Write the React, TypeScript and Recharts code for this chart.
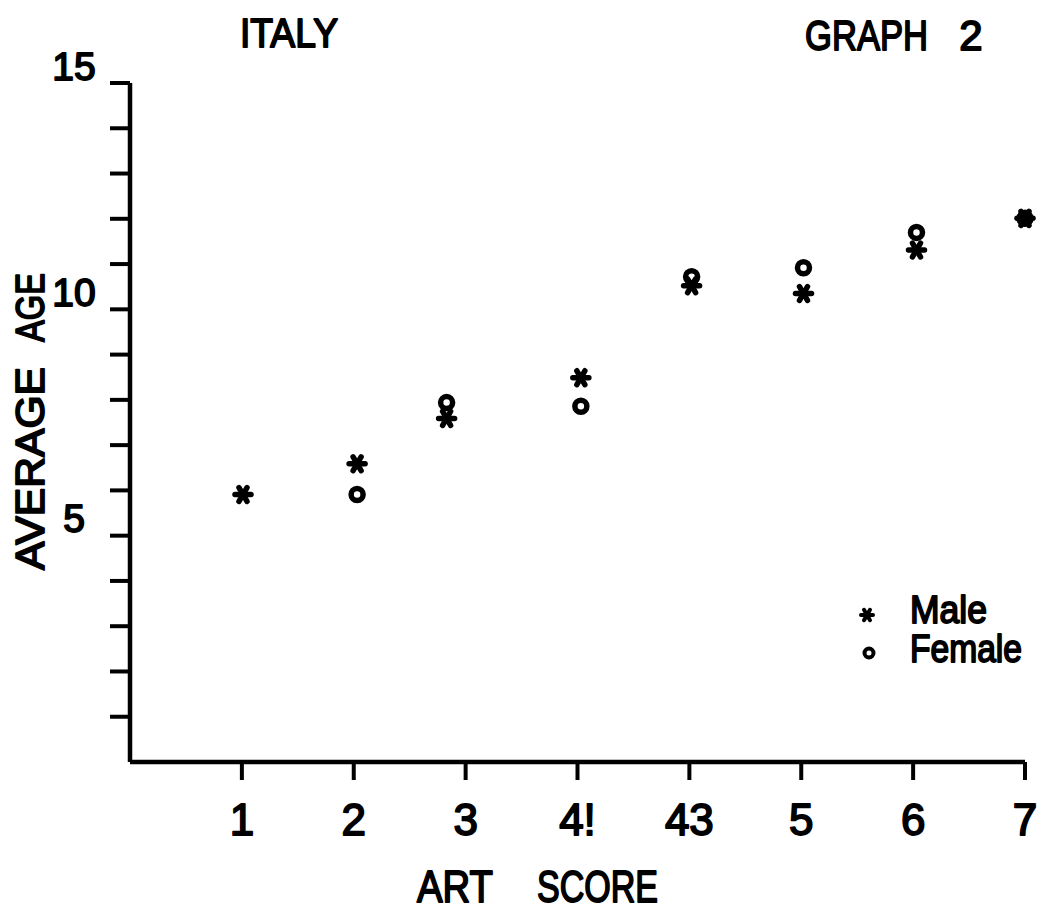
import React from 'react';
import { ScatterChart, Scatter, XAxis, YAxis, Legend, Label } from 'recharts';

// Category tick labels (x positions 1..8)
const categoryLabels = ['1', '2', '3', '4!', '43', '5', '6', '7'];
const xTicks = [1, 2, 3, 4, 5, 6, 7, 8];
const yTicks = [1, 2, 3, 4, 5, 6, 7, 8, 9, 10, 11, 12, 13, 14, 15];
const yLabelValues = [5, 10, 15];

// Male (asterisk)
const maleX = [1.01, 2.03, 2.83, 4.03, 5.02, 6.02, 7.03, 8.0];
const maleY = [5.91, 6.59, 7.59, 8.49, 10.52, 10.35, 11.31, 12.01];
// Female (circle)
const femaleX = [2.03, 2.83, 4.03, 5.02, 6.02, 7.03, 8.0];
const femaleY = [5.91, 7.94, 7.86, 10.72, 10.92, 11.7, 12.01];

const maleData = maleX.map((x, i) => ({ x, y: maleY[i] }));
const femaleData = femaleX.map((x, i) => ({ x, y: femaleY[i] }));

const FONT = '"Liberation Sans", Arial, sans-serif';
const TXT = { fill: '#000', stroke: '#000', strokeWidth: 1.8, strokeLinejoin: 'round' as const };

const StarShape = (props: any) => {
  const { cx, cy } = props;
  const r = 8;
  const arms = [0, 60, 120].map((deg) => {
    const a = (deg * Math.PI) / 180;
    return (
      <line
        key={deg}
        x1={cx - r * Math.cos(a)}
        y1={cy - r * Math.sin(a)}
        x2={cx + r * Math.cos(a)}
        y2={cy + r * Math.sin(a)}
      />
    );
  });
  return (
    <g stroke="#000" strokeWidth={5.5} strokeLinecap="round">
      {arms}
      <circle cx={cx} cy={cy} r={3.5} fill="#000" stroke="none" />
    </g>
  );
};

const RingShape = (props: any) => {
  const { cx, cy } = props;
  return <circle cx={cx} cy={cy} r={6} fill="none" stroke="#000" strokeWidth={5.5} />;
};

const XTick = (props: any) => {
  const { x, y, payload } = props;
  const label = categoryLabels[payload.value - 1];
  return (
    <text x={x} y={y + 53} textAnchor="middle" fontFamily={FONT} fontSize={44} {...TXT}>
      {label}
    </text>
  );
};

const YTick = (props: any) => {
  const { x, y, payload } = props;
  if (!yLabelValues.includes(payload.value)) return <g />;
  return (
    <text
      x={x - 34}
      y={y - 17}
      textAnchor="middle"
      dominantBaseline="central"
      fontFamily={FONT}
      fontSize={39}
      {...TXT}
    >
      {payload.value}
    </text>
  );
};

const XTitle = () => (
  <g fontFamily={FONT} fontSize={44} {...TXT}>
    <text x={455} y={902} textAnchor="middle" textLength={76} lengthAdjust="spacingAndGlyphs">
      ART
    </text>
    <text x={597.5} y={902} textAnchor="middle" textLength={121} lengthAdjust="spacingAndGlyphs">
      SCORE
    </text>
  </g>
);

const YTitle = () => (
  <g fontFamily={FONT} fontSize={40} {...TXT} transform="translate(44, 0)">
    <text
      x={0}
      y={0}
      transform="translate(0, 468.5) rotate(-90)"
      textAnchor="middle"
      textLength={203}
      lengthAdjust="spacingAndGlyphs"
    >
      AVERAGE
    </text>
    <text
      x={0}
      y={0}
      transform="translate(0, 307.5) rotate(-90)"
      textAnchor="middle"
      textLength={69}
      lengthAdjust="spacingAndGlyphs"
    >
      AGE
    </text>
  </g>
);

const StarShapeSmall = ({ cx, cy }: { cx: number; cy: number }) => {
  const r = 6;
  return (
    <g stroke="#000" strokeWidth={4} strokeLinecap="round">
      {[0, 60, 120].map((deg) => {
        const a = (deg * Math.PI) / 180;
        return (
          <line
            key={deg}
            x1={cx - r * Math.cos(a)}
            y1={cy - r * Math.sin(a)}
            x2={cx + r * Math.cos(a)}
            y2={cy + r * Math.sin(a)}
          />
        );
      })}
    </g>
  );
};

const renderLegend = () => (
  <svg width={190} height={90} style={{ display: 'block' }}>
    <StarShapeSmall cx={17} cy={30} />
    <text x={60} y={38} fontFamily={FONT} fontSize={38} {...TXT} textLength={77} lengthAdjust="spacingAndGlyphs">
      Male
    </text>
    <circle cx={19} cy={68} r={4.5} fill="none" stroke="#000" strokeWidth={4} />
    <text x={60} y={77} fontFamily={FONT} fontSize={38} {...TXT} textLength={112} lengthAdjust="spacingAndGlyphs">
      Female
    </text>
  </svg>
);

export default function App() {
  return (
    <div style={{ position: 'absolute', left: 0, top: 0, width: 1039, height: 912, background: '#fff' }}>
      <svg width={1039} height={912} style={{ position: 'absolute', left: 0, top: 0, pointerEvents: 'none' }}>
        <g fontFamily={FONT} {...TXT}>
          <text x={289} y={47} fontSize={40} textAnchor="middle" textLength={98} lengthAdjust="spacingAndGlyphs">
            ITALY
          </text>
          <text x={866.5} y={50} fontSize={42} textAnchor="middle" textLength={123} lengthAdjust="spacingAndGlyphs">
            GRAPH
          </text>
          <text x={971} y={50} fontSize={42} textAnchor="middle">
            2
          </text>
        </g>
      </svg>
      <ScatterChart
        width={1039}
        height={912}
        margin={{ top: 83, right: 14, bottom: 90, left: 60 }}
        style={{ position: 'absolute', left: 0, top: 0 }}
      >
        <XAxis
          type="number"
          dataKey="x"
          domain={[0, 8]}
          ticks={xTicks}
          interval={0}
          height={60}
          tickSize={18}
          tickLine={{ stroke: '#000', strokeWidth: 4 }}
          axisLine={{ stroke: '#000', strokeWidth: 4.5 }}
          tick={<XTick />}
        >
          <Label content={<XTitle />} />
        </XAxis>
        <YAxis
          type="number"
          dataKey="y"
          domain={[0, 15]}
          ticks={yTicks}
          interval={0}
          width={70}
          tickSize={20}
          tickLine={{ stroke: '#000', strokeWidth: 4 }}
          axisLine={{ stroke: '#000', strokeWidth: 4.5 }}
          tick={<YTick />}
        >
          <Label content={<YTitle />} />
        </YAxis>
        <Legend
          content={renderLegend}
          layout="horizontal"
          verticalAlign="middle"
          align="center"
          wrapperStyle={{ position: 'absolute', left: 850, top: 585, width: 190, height: 90 }}
        />
        <Scatter name="Male" data={maleData} shape={StarShape} isAnimationActive={false} />
        <Scatter name="Female" data={femaleData} shape={RingShape} isAnimationActive={false} />
      </ScatterChart>
    </div>
  );
}
